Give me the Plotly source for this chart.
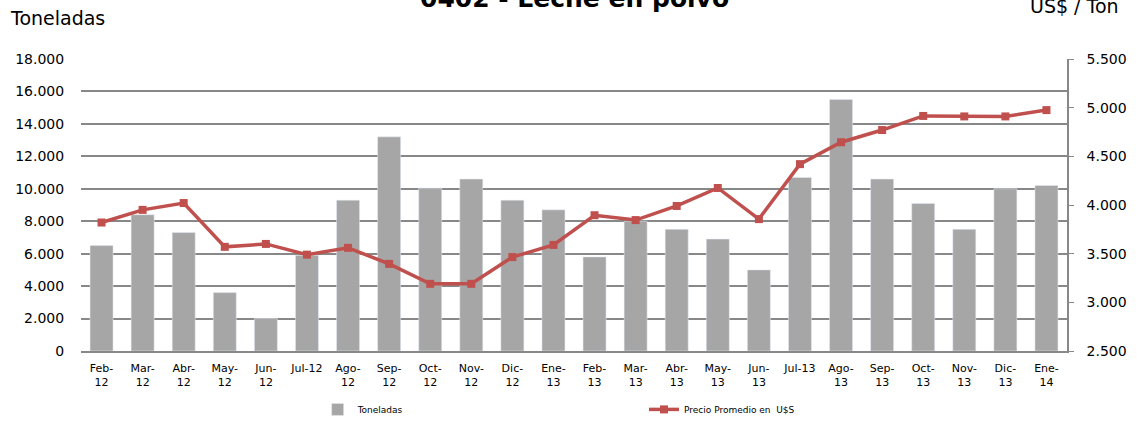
import plotly.graph_objects as go

meses = ["Feb-<br>12", "Mar-<br>12", "Abr-<br>12", "May-<br>12", "Jun-<br>12", "Jul-12",
         "Ago-<br>12", "Sep-<br>12", "Oct-<br>12", "Nov-<br>12", "Dic-<br>12", "Ene-<br>13",
         "Feb-<br>13", "Mar-<br>13", "Abr-<br>13", "May-<br>13", "Jun-<br>13", "Jul-13",
         "Ago-<br>13", "Sep-<br>13", "Oct-<br>13", "Nov-<br>13", "Dic-<br>13", "Ene-<br>14"]

toneladas = [6500, 8400, 7300, 3600, 2000, 5900, 9300, 13200, 10050, 10600, 9300, 8700,
             5800, 8000, 7500, 6900, 5000, 10700, 15500, 10600, 9100, 7500, 10000, 10200]

precio = [3820, 3950, 4020, 3570, 3600, 3490, 3560, 3395, 3190, 3190, 3465, 3590,
          3895, 3845, 3990, 4175, 3855, 4420, 4645, 4770, 4915, 4910, 4910, 4975]

font = "DejaVu Sans"
gris = "#A6A6A6"
rojo = "#C0504D"
linea = "#888888"

fig = go.Figure()
fig.add_trace(go.Bar(x=meses, y=toneladas, name="Toneladas", marker_color=gris,
                     legend="legend", showlegend=True))
fig.add_trace(go.Scatter(x=meses, y=precio, name="Precio Promedio en  U$S", yaxis="y2",
                         mode="lines+markers", line=dict(color=rojo, width=3.5),
                         marker=dict(symbol="square", size=8, color=rojo),
                         legend="legend2", showlegend=True))

fig.update_layout(
    width=1139, height=426,
    margin=dict(l=81, r=72, t=59, b=75, autoexpand=False),
    showlegend=True,
    plot_bgcolor="white", paper_bgcolor="white",
    separators=",.",
    bargap=0.44,
    font=dict(family=font, color="#000000"),
    xaxis=dict(range=[-0.5, len(meses) - 0.5], showline=True, linecolor=linea, linewidth=1.5,
               tickfont=dict(size=11), ticks="", tickangle=0, ticklabelstandoff=6,
               automargin=False),
    yaxis=dict(range=[0, 18000], dtick=2000, tickformat=",d", showgrid=True,
               gridcolor=linea, gridwidth=1.5, zeroline=False, tickfont=dict(size=14),
               ticks="outside", ticklen=8, tickcolor="white", ticklabelstandoff=5,
               automargin=False),
    yaxis2=dict(range=[2500, 5500], dtick=500, tickformat=",d", overlaying="y", side="right",
                showgrid=False, zeroline=False, showline=True, linecolor=linea, linewidth=1.5,
                ticks="outside", ticklen=5, tickcolor=linea, tickfont=dict(size=14),
                ticklabelstandoff=10, automargin=False),
    legend=dict(x=0.24, y=-0.2, xanchor="left", yanchor="middle", orientation="h",
                font=dict(size=9)),
    legend2=dict(x=0.571, y=-0.2, xanchor="left", yanchor="middle", orientation="h",
                 font=dict(size=9)),
    annotations=[
        dict(text="<b>0402 - Leche en polvo</b>", xref="paper", yref="paper", x=0.5, y=1.208,
             xanchor="center", yanchor="middle", showarrow=False, font=dict(size=25)),
        dict(text="Toneladas", xref="paper", yref="paper", x=-0.074, y=1.14,
             xanchor="left", yanchor="middle", showarrow=False, font=dict(size=19)),
        dict(text="US$ / Ton", xref="paper", yref="paper", x=0.96, y=1.18,
             xanchor="left", yanchor="middle", showarrow=False, font=dict(size=19)),
    ],
)

fig.write_html("out.html", config={"displayModeBar": False},
               post_script="document.body.style.margin='0';")
